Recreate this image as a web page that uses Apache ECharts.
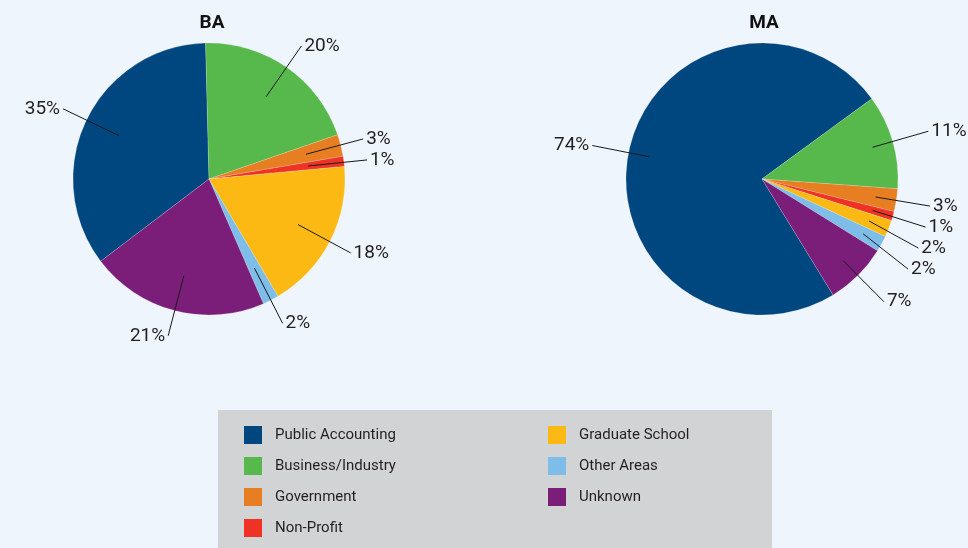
<!DOCTYPE html>
<html>
<head>
<meta charset="utf-8">
<script src="https://cdn.jsdelivr.net/npm/echarts@6/dist/echarts.min.js"></script>
<style>
html,body{margin:0;padding:0;background:#eef5fc;}
#chart{width:968px;height:548px;}
</style>
</head>
<body>
<div id="chart"></div>
<script>
// ---- data ----
const categories = ['Public Accounting', 'Business/Industry', 'Government', 'Non-Profit', 'Graduate School', 'Other Areas', 'Unknown'];
const baValues = [34.9, 20.1, 2.6, 1.2, 18.0, 1.9, 21.2];
const maValues = [73.7, 11.2, 2.7, 1.1, 2.0, 1.9, 7.4];
const pieTitles = ['BA', 'MA'];
const legendColumn1 = ['Public Accounting', 'Business/Industry', 'Government', 'Non-Profit'];
const legendColumn2 = ['Graduate School', 'Other Areas', 'Unknown'];

// ---- styles ----
const colors = ['#00467f', '#57b94b', '#e77f22', '#ee3324', '#fdb913', '#7dbde8', '#7a1e7a'];
const FONT = 'Roboto';

function mkData(vals) {
  return categories.map((c, i) => ({ name: c, value: vals[i] }));
}

function visiblePie(vals, center, startAngle) {
  return {
    type: 'pie',
    center: center,
    radius: 136,
    startAngle: startAngle,
    clockwise: true,
    silent: true,
    avoidLabelOverlap: false,
    label: { show: false },
    labelLine: { show: false },
    itemStyle: { borderWidth: 0.5, borderColor: 'rgba(255,255,255,0.35)' },
    emphasis: { disabled: true },
    data: mkData(vals).map((d, i) => Object.assign(d, { itemStyle: { color: colors[i] } })),
    z: 2
  };
}

function labelPie(vals, center, startAngle, innerR, len) {
  return {
    type: 'pie',
    center: center,
    radius: innerR,
    startAngle: startAngle,
    clockwise: true,
    silent: true,
    avoidLabelOverlap: true,
    itemStyle: { color: 'rgba(0,0,0,0)' },
    emphasis: { disabled: true },
    label: {
      show: true,
      position: 'outside',
      formatter: p => Math.round(p.value) + '%',
      fontFamily: FONT,
      fontSize: 19,
      color: '#231f20',
      overflow: 'none',
      distanceToLabelLine: 3
    },
    labelLine: {
      show: true,
      length: len,
      length2: 0,
      smooth: false,
      lineStyle: { color: '#1a1a1a', width: 1 }
    },
    data: mkData(vals),
    z: 3
  };
}

const chart = echarts.init(document.getElementById('chart'), null, { renderer: 'canvas' });

const legendBase = {
  orient: 'vertical',
  icon: 'rect',
  itemWidth: 18,
  itemHeight: 18,
  itemGap: 13,
  padding: 0,
  height: 140,
  selectedMode: false,
  itemStyle: { borderWidth: 0 },
  z: 5
};

chart.setOption({
  backgroundColor: '#eef5fc',
  animation: false,
  title: [
    { text: pieTitles[0], left: 207, top: 9, textAlign: 'center',
      textStyle: { fontFamily: FONT, fontWeight: 'bold', fontSize: 19, color: '#111' } },
    { text: pieTitles[1], left: 759, top: 9, textAlign: 'center',
      textStyle: { fontFamily: FONT, fontWeight: 'bold', fontSize: 19, color: '#111' } }
  ],
  graphic: [
    { type: 'rect', left: 218, top: 410, z: 0,
      shape: { width: 554, height: 140 },
      style: { fill: '#d2d3d5' } }
  ],
  legend: [
    Object.assign({}, legendBase, {
      left: 244, top: 426,
      data: legendColumn1,
      textStyle: { fontFamily: FONT, fontSize: 15, lineHeight: 18, color: '#231f20', padding: [0, 0, 0, 8] }
    }),
    Object.assign({}, legendBase, {
      left: 548, top: 426,
      data: legendColumn2,
      textStyle: { fontFamily: FONT, fontSize: 15, lineHeight: 18, color: '#231f20', padding: [0, 0, 0, 8] }
    })
  ],
  series: [
    visiblePie(baValues, [209, 179], 217.2),
    visiblePie(maValues, [762, 179], 301.5),
    labelPie(baValues, [209, 179], 217.2, 100, 62),
    labelPie(maValues, [762, 179], 301.5, 115, 58)
  ]
});
</script>
</body>
</html>
